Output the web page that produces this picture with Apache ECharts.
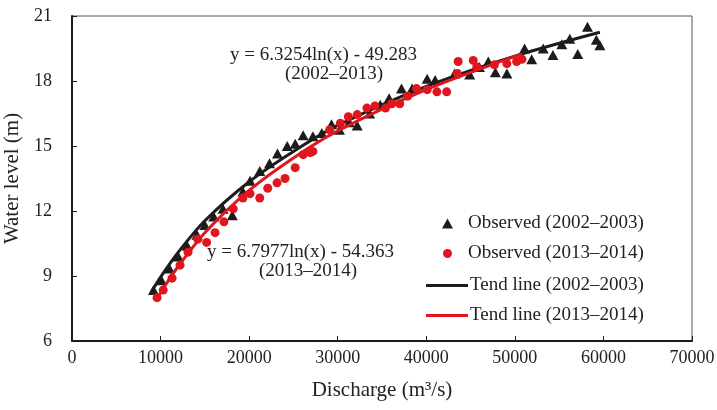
<!DOCTYPE html>
<html>
<head>
<meta charset="utf-8">
<script src="https://cdn.jsdelivr.net/npm/echarts@6/dist/echarts.min.js"></script>
<style>
  html, body { margin: 0; padding: 0; background: #fff; }
  #chart-box { width: 717px; height: 410px; }
</style>
</head>
<body>
<div id="chart-box"></div>
<script>
// observed 2002-2003 (triangles)
var obsX0203 = [9200, 10100, 11000, 12000, 13000, 14100, 15000, 16000, 17050, 18100, 19300, 20100, 21200, 22300, 23200, 24300,
    25200, 26100, 27200, 28200, 29300, 30200, 31300, 32200, 33600, 34800, 35800, 37200, 38400, 40100, 41000, 43200,
    44900, 46000, 47000, 47800, 49100, 51100, 51900, 53200, 54300, 55300, 56200, 57100, 58200, 59200, 59600];
var obsY0203 = [8.35, 8.8, 9.35, 9.9, 10.4, 10.9, 11.35, 11.75, 12.1, 11.8, 12.9, 13.4, 13.85, 14.2, 14.65, 15.0,
    15.1, 15.5, 15.45, 15.6, 16.0, 15.75, 16.1, 15.95, 16.5, 16.9, 17.2, 17.65, 17.65, 18.1, 18.05, 18.35,
    18.3, 18.65, 18.9, 18.4, 18.35, 19.5, 19.0, 19.5, 19.2, 19.7, 19.95, 19.25, 20.5, 19.9, 19.65];

// observed 2013-2014 (dots)
var obsX1314 = [9600, 10300, 11300, 12200, 13100, 14200, 15200, 16150, 17150, 18200, 19300, 20100, 21200, 22100, 23150, 24050,
    25200, 26100, 26900, 27200, 29100, 30300, 31200, 32200, 33300, 34200, 35400, 36100, 37000, 37900, 38900, 40100,
    41200, 42300, 43500, 43600, 45300, 45700, 47700, 49100, 50200, 50800];
var obsY1314 = [8.0, 8.35, 8.9, 9.5, 10.1, 10.7, 10.55, 11.0, 11.5, 12.1, 12.6, 12.8, 12.6, 13.05, 13.3, 13.5,
    14.0, 14.6, 14.7, 14.75, 15.75, 16.05, 16.35, 16.45, 16.75, 16.85, 16.75, 16.95, 16.95, 17.3, 17.65, 17.6,
    17.5, 17.5, 18.35, 18.9, 18.95, 18.65, 18.75, 18.8, 18.9, 19.0];

// trend lines
var trendX0203 = [9000, 10000, 12000, 15000, 20000, 25000, 30000, 40000, 50000, 59600];
var trendY0203 = [8.3, 8.95, 10.1, 11.55, 13.35, 14.75, 15.95, 17.75, 19.15, 20.25];
var trendX1314 = [9600, 10500, 12000, 15000, 20000, 25000, 30000, 40000, 50800];
var trendY1314 = [7.95, 8.55, 9.45, 11.0, 12.95, 14.45, 15.7, 17.6, 19.25];

var seriesNames = ['Observed (2002–2003)', 'Observed (2013–2014)', 'Tend line (2002–2003)', 'Tend line (2013–2014)'];
var eqTexts = ['y = 6.3254ln(x) - 49.283', '(2002–2013)', 'y = 6.7977ln(x) - 54.363', '(2013–2014)'];

function pairs(xs, ys) {
    var out = [];
    for (var i = 0; i < xs.length; i++) {
        out.push([xs[i], ys[i]]);
    }
    return out;
}

var fontName = '"Liberation Serif", "DejaVu Serif", serif';
var black = '#1c1c1c';
var red = '#e0161e';

function legendOne(name, top, icon, w, h, left, pad) {
    return {
        data: [name],
        left: left,
        top: top,
        orient: 'vertical',
        icon: icon,
        itemWidth: w,
        itemHeight: h,
        selectedMode: false,
        textStyle: {
            fontFamily: fontName,
            fontSize: 19,
            color: '#222',
            padding: [0, 0, 0, pad]
        }
    };
}

function eqText(i, left, top) {
    return {
        type: 'text',
        left: left,
        top: top,
        style: { text: eqTexts[i], font: '19px ' + fontName, fill: '#222' }
    };
}

var option = {
    animation: false,
    backgroundColor: '#fff',
    textStyle: { fontFamily: fontName },
    grid: {
        left: 72,
        right: 25,
        top: 16,
        bottom: 69,
        show: true,
        borderColor: '#555',
        borderWidth: 1,
        containLabel: false,
        outerBoundsMode: 'none'
    },
    legend: [
        legendOne(seriesNames[0], 209, 'triangle', 11, 10, 437, 10),
        legendOne(seriesNames[1], 239, 'circle', 9, 9, 438, 11),
        legendOne(seriesNames[2], 271, 'rect', 42, 3, 421, -3),
        legendOne(seriesNames[3], 301, 'rect', 42, 3, 421, -3)
    ],
    xAxis: {
        type: 'value',
        min: 0,
        max: 70000,
        interval: 10000,
        name: 'Discharge (m³/s)',
        nameLocation: 'middle',
        nameGap: 39,
        nameTextStyle: { fontFamily: fontName, fontSize: 21, color: '#222' },
        splitLine: { show: false },
        axisLine: { lineStyle: { color: black, width: 2 } },
        axisTick: { inside: true, length: 5, lineStyle: { color: black, width: 1 } },
        axisLabel: {
            fontFamily: fontName, fontSize: 18, color: '#222', margin: 8,
            formatter: function (v) { return String(v); }
        }
    },
    yAxis: {
        type: 'value',
        min: 6,
        max: 21,
        interval: 3,
        name: 'Water level (m)',
        nameLocation: 'middle',
        nameGap: 43,
        nameTextStyle: { fontFamily: fontName, fontSize: 21, color: '#222' },
        splitLine: { show: false },
        axisLine: { show: true, lineStyle: { color: black, width: 2 } },
        axisTick: { show: true, inside: true, length: 5, lineStyle: { color: black, width: 1 } },
        axisLabel: { fontFamily: fontName, fontSize: 18, color: '#222', margin: 20 }
    },
    graphic: [
        eqText(0, 230, 46),
        eqText(1, 285, 65),
        eqText(2, 207, 243),
        eqText(3, 259, 262)
    ],
    series: [
        {
            name: seriesNames[2],
            type: 'line',
            data: pairs(trendX0203, trendY0203),
            smooth: 0.3,
            showSymbol: false,
            color: black,
            lineStyle: { color: black, width: 3 },
            z: 3
        },
        {
            name: seriesNames[3],
            type: 'line',
            data: pairs(trendX1314, trendY1314),
            smooth: 0.3,
            showSymbol: false,
            color: red,
            lineStyle: { color: red, width: 3 },
            z: 4
        },
        {
            name: seriesNames[0],
            type: 'scatter',
            data: pairs(obsX0203, obsY0203),
            symbol: 'triangle',
            symbolSize: [11, 10],
            itemStyle: { color: black, opacity: 1 },
            z: 2
        },
        {
            name: seriesNames[1],
            type: 'scatter',
            data: pairs(obsX1314, obsY1314),
            symbol: 'circle',
            symbolSize: 9,
            itemStyle: { color: red, opacity: 1 },
            z: 5
        }
    ]
};

var myChart = echarts.init(document.getElementById('chart-box'));
myChart.setOption(option);
</script>
</body>
</html>
